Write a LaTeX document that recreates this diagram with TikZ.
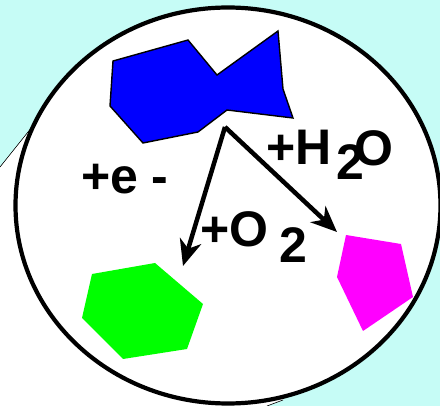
\documentclass[tikz,border=0pt]{standalone}
\usepackage{fontspec}
\setmainfont{Liberation Sans}
\usetikzlibrary{arrows.meta}
\definecolor{bgcyan}{RGB}{198,252,246}
\definecolor{pblue}{RGB}{0,0,255}
\definecolor{pgreen}{RGB}{0,255,0}
\definecolor{pmag}{RGB}{255,0,255}
\tikzset{
  lbl/.style={anchor=base west,inner sep=0pt,font=\bfseries\fontsize{50}{58}\selectfont},
  conn/.style={line width=4.5pt,-{Stealth[length=26pt,width=22pt,inset=8pt]}},
  thinline/.style={line width=0.6pt}
}
\begin{document}
\begin{tikzpicture}[x=1pt,y=-1pt]
\useasboundingbox (0,0) rectangle (440,406);
\fill[bgcyan] (0,0) rectangle (440,406);
% white callout region
\fill[white] (0,406) -- (0,167) -- (32,127) -- (228,205) -- (283,400) -- (267,406) -- cycle;
\draw[thinline] (0,167) -- (32,127);
\draw[thinline] (267,406) -- (283,400);
% ellipse
\draw[line width=4.2pt,fill=white] (228,205.5) ellipse [x radius=212.5, y radius=198];
% shapes
\draw[fill=pblue,line width=1.4pt,line join=miter]
  (113,61) -- (188,40) -- (217,75) -- (278,31) -- (283,89) -- (293,118) -- (227,110) -- (198,132) -- (143,143) -- (110,106) -- cycle;
\fill[pgreen]
  (92,274) -- (155,263) -- (203,304) -- (187,349) -- (123,359) -- (82,318) -- cycle;
\fill[pmag]
  (346,235) -- (401,244) -- (413,297) -- (363,331) -- (337,277) -- cycle;
% arrows
\coordinate (src) at (225,127);
\coordinate (t1) at (183,266);
\coordinate (t2) at (337,232);
\draw[conn] (src) -- (t1);
\draw[conn] (src) -- (t2);
% labels
\node[lbl] (e) at (81,194) {+e};
\node[lbl] (em) at (151,194) {-};
\node[lbl] (h) at (266,165) {+H};
\node[lbl] (h2) at (336,180) {2};
\node[lbl] (ho) at (354,166) {O};
\node[lbl] (o) at (200,247) {+O};
\node[lbl] (o2) at (279,263) {2};
\end{tikzpicture}
\end{document}
